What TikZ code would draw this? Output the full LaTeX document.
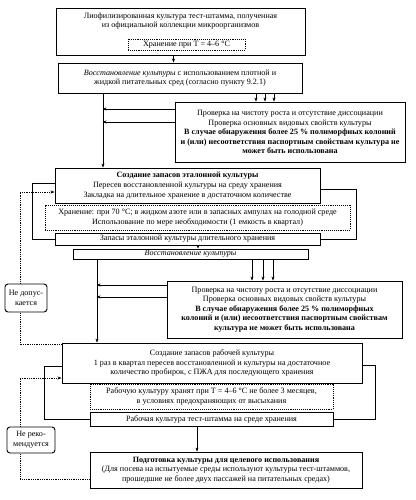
\documentclass[tikz,border=0pt]{standalone}
\usepackage{fontspec}
\setmainfont{Liberation Serif}
\usetikzlibrary{arrows.meta}

\begin{document}
\begin{tikzpicture}[x=1pt,y=-1pt,>={Stealth[length=4pt,width=3pt]},
	font=\fontsize{8.1}{9.6}\selectfont,
	box/.style={draw,line width=0.9pt,align=center,inner sep=1pt},
	dbox/.style={draw,line width=0.9pt,densely dotted,align=center,inner sep=1pt},
	note/.style={draw,line width=0.9pt,rounded corners=3pt,align=center,inner sep=1pt},
	dline/.style={densely dotted,thick}]
	
	\useasboundingbox (0,0) rectangle (415,500);
	
	\node[box,minimum width=249,minimum height=47] (lio) at (180.5,31.5) {};
	\node[align=center] (liotxt) at (180.5,21) {Лиофилизированная культура тест-штамма, полученная\\из официальной коллекции микроорганизмов};
	\node[dbox,minimum width=117,minimum height=11] (hr1) at (186.5,44.5) {Хранение при T = 4–6 °C};
	
	\node[box,minimum width=244,minimum height=30] (vos1) at (180,78) {\textit{Восстановление культуры} с использованием плотной и\\жидкой питательных сред (согласно пункту 9.2.1)};
	\node[box,minimum width=230,minimum height=60] (pr1) at (290,132) {Проверка на чистоту роста и отсутствие диссоциации\\Проверка основных видовых свойств культуры\\\textbf{В случае обнаружения более 25 \% полиморфных колоний}\\\textbf{и (или) несоответствия паспортным свойствам культура не}\\\textbf{может быть использована}};
	
	\node[box,minimum width=265,minimum height=35] (et) at (187.5,185.5) {\textbf{Создание запасов эталонной культуры}\\Пересев восстановленной культуры на среду хранения\\Закладка на длительное хранение в достаточном количестве};
	\node[dbox,minimum width=305,minimum height=25] (hr2) at (197.5,217.5) {Хранение: при 70 °C; в жидком азоте или в запасных ампулах на голодной среде\\Использование по мере необходимости (1 емкость в квартал)};
	\node[box,minimum width=265,minimum height=12] (zap1) at (187.5,239) {Запасы эталонной культуры длительного хранения};
	
	\node[box,minimum width=235,minimum height=10] (vos2) at (190.5,254) {\textit{Восстановление культуры}};
	\node[box,minimum width=235,minimum height=57] (pr2) at (284.5,309.5) {Проверка на чистоту роста и отсутствие диссоциации\\Проверка основных видовых свойств культуры\\\textbf{В случае обнаружения более 25 \% полиморфных}\\\textbf{колоний и (или) несоответствия паспортным свойствам}\\\textbf{культура не может быть использована}};
	
	\node[box,minimum width=300,minimum height=40] (rab) at (212,363) {Создание запасов рабочей культуры\\1 раз в квартал пересев восстановленной и культуры на достаточное\\количество пробирок, с ПЖА для последующего хранения};
	\node[dbox,minimum width=243,minimum height=25] (hr3) at (211.5,396.5) {Рабочую культуру хранят при T = 4–6 °C не более 3 месяцев,\\в условиях предохраняющих от высыхания};
	\node[box,minimum width=243,minimum height=14] (rk) at (211.5,419) {Рабочая культура тест-штамма на среде хранения};
	
	\node[box,minimum width=272,minimum height=36] (pod) at (226,470) {\textbf{Подготовка культуры для целевого использования}\\(Для посева на испытуемые среды используют культуры тест-штаммов,\\прошедшие не более двух пассажей на питательных средах)};
	
	\node[note,minimum width=42,minimum height=28] (nd1) at (26,298) {Не допус-\\кается};
	\node[note,minimum width=48,minimum height=26] (nd2) at (31,440) {Не реко-\\мендуется};
	
	% main flow
	\draw[->] ([xshift=-7]lio.south) -- ([xshift=-7]lio.south |- vos1.north);
	\foreach \dx in {76,85,94}
		\draw[->] ([xshift=\dx]vos1.south) -- ([xshift=\dx]vos1.south |- pr1.north);
	\draw[->] ([xshift=-77]vos1.south) -- ([xshift=-77]vos1.south |- et.north);
	\foreach \dy in {23,10}
		\draw[->] ([yshift=\dy]pr1.west) -- +(-72,0);
	
	\draw ([yshift=2.5]et.west) -- ++(-22,0) |- (zap1.west);
	\draw ([yshift=-3.5]et.east) -- ++(36,0) |- (zap1.east);
	
	\draw[->] ([xshift=10.5]zap1.south) -- ([xshift=10.5]zap1.south |- vos2.north);
	\foreach \dx in {61.5,72.5,82.5}
		\draw[->] ([xshift=\dx]vos2.south) -- ([xshift=\dx]vos2.south |- pr2.north);
	\draw[->] ([xshift=-93.5]vos2.south) -- ([xshift=-93.5]vos2.south |- rab.north);
	\foreach \dy in {24.5,12.5}
		\draw[->] ([yshift=\dy]pr2.west) -- +(-70,0);
	
	\draw ([yshift=-3]rab.west) -- ++(-17,0) |- (rk.west);
	\draw ([yshift=-2]rab.east) -- ++(13,0) |- (rk.east);
	\draw[->] ([xshift=-14.5]rk.south) -- ([xshift=-14.5]rk.south |- pod.north);
	
	% back links
	\draw[dline] ([yshift=-2]rab.north west) -| ([xshift=-6]nd1.south);
	\draw[dline,->] ([xshift=-6]nd1.north) |- ([yshift=-6.5]et.west);
	\draw[dline] ([yshift=-9]pod.west) -| ([xshift=-11]nd2.south);
	\draw[dline,->] ([xshift=-11]nd2.north) |- ([yshift=-15]rab.west);
	
\end{tikzpicture}
\end{document}
